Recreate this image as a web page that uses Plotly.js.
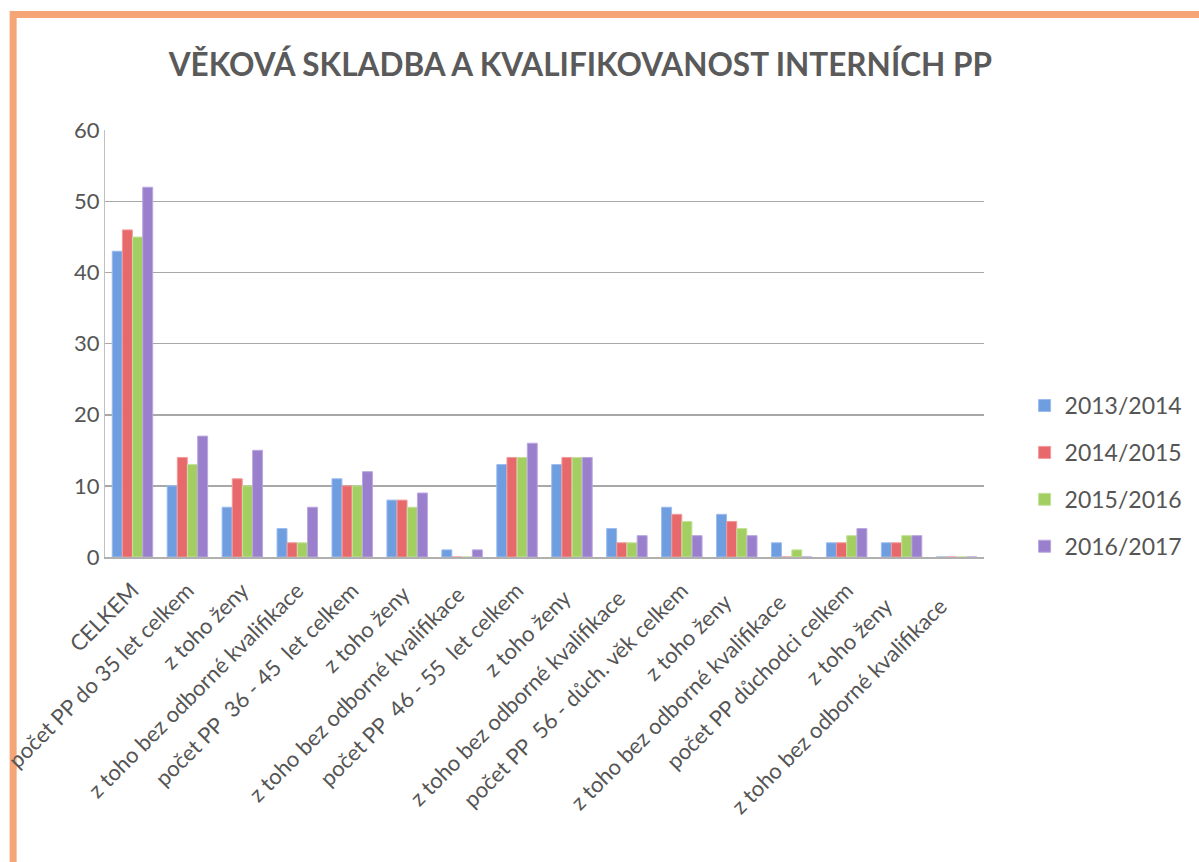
<!DOCTYPE html>
<html>
<head>
<meta charset="utf-8">
<script src="https://cdn.plot.ly/plotly-3.0.1.min.js"></script>
<style>html,body{margin:0;padding:0;background:#fff;}#chart{width:1199px;height:862px;}</style>
</head>
<body>
<div id="chart"></div>
<script>
const categories = [
  "CELKEM",
  "počet PP do 35 let celkem",
  "z toho ženy",
  "z toho bez odborné kvalifikace",
  "počet PP  36 - 45  let celkem",
  "z toho ženy ",
  "z toho bez odborné kvalifikace ",
  "počet PP  46 - 55  let celkem",
  "z toho ženy  ",
  "z toho bez odborné kvalifikace  ",
  "počet PP  56 - důch. věk celkem",
  "z toho ženy   ",
  "z toho bez odborné kvalifikace   ",
  "počet PP důchodci celkem",
  "z toho ženy    ",
  "z toho bez odborné kvalifikace    "
];
const seriesNames = ["2013/2014", "2014/2015", "2015/2016", "2016/2017"];
const v2013 = [43, 10, 7, 4, 11, 8, 1, 13, 13, 4, 7, 6, 2, 2, 2, 0];
const v2014 = [46, 14, 11, 2, 10, 8, 0, 14, 14, 2, 6, 5, 0, 2, 2, 0];
const v2015 = [45, 13, 10, 2, 10, 7, 0, 14, 14, 2, 5, 4, 1, 3, 3, 0];
const v2016 = [52, 17, 15, 7, 12, 9, 1, 16, 14, 3, 3, 3, 0, 4, 3, 0];
const colors = ["#6e9de0", "#e8696b", "#a3cf62", "#9a7fcc"];
const lineColors = ["#9cbcef", "#f29a9a", "#c3e29a", "#bba7e0"];

const values = [v2013, v2014, v2015, v2016];
const traces = seriesNames.map((name, i) => ({
  type: "bar",
  name: name,
  x: categories,
  y: values[i],
  legendgroup: "g" + i,
  marker: {color: colors[i], line: {color: lineColors[i], width: 1}}
}));

const font = "Lato, 'Open Sans', 'Liberation Sans', sans-serif";
const layout = {
  width: 1199,
  height: 862,
  margin: {l: 105, r: 214, t: 130, b: 305},
  paper_bgcolor: "#ffffff",
  plot_bgcolor: "#ffffff",
  font: {family: font, color: "#555555", size: 18},
  title: {
    text: "<b>VĚKOVÁ SKLADBA A KVALIFIKOVANOST INTERNÍCH PP</b>",
    font: {family: font, size: 31.5, color: "#5a5a5a"},
    x: 0.484, xanchor: "center", y: 0.925, yanchor: "middle"
  },
  barmode: "group",
  bargap: 0.26,
  bargroupgap: 0.02,
  showlegend: true,
  legend: {
    x: 1.045, xanchor: "left", y: 0.405, yanchor: "top",
    font: {family: font, size: 23, color: "#555555"},
    tracegroupgap: 14,
    bgcolor: "rgba(0,0,0,0)"
  },
  xaxis: {
    type: "category",
    tickangle: -45,
    tickfont: {family: font, size: 22, color: "#555555"},
    showgrid: false,
    showline: true,
    linecolor: "#b0b0b0",
    linewidth: 2,
    ticks: "",
    ticklabelstandoff: 10,
    automargin: false
  },
  yaxis: {
    range: [0, 60.05],
    tickvals: [0, 10, 20, 30, 40, 50, 60],
    showgrid: true,
    gridcolor: "#a8a8a8",
    gridwidth: 1.5,
    zeroline: false,
    showline: true,
    linecolor: "#c0c0c0",
    linewidth: 1,
    tickfont: {family: font, size: 22, color: "#555555"},
    ticks: "",
    ticklabelstandoff: 0,
    automargin: false
  },
  shapes: [
    {type: "rect", xref: "paper", yref: "paper",
     x0: -0.1045, x1: 1.4, y0: -1.2, y1: 1.2705,
     line: {color: "#f6a577", width: 7}, layer: "below"}
  ]
};

Plotly.newPlot("chart", traces, layout, {displayModeBar: false, staticPlot: true});
</script>
</body>
</html>
